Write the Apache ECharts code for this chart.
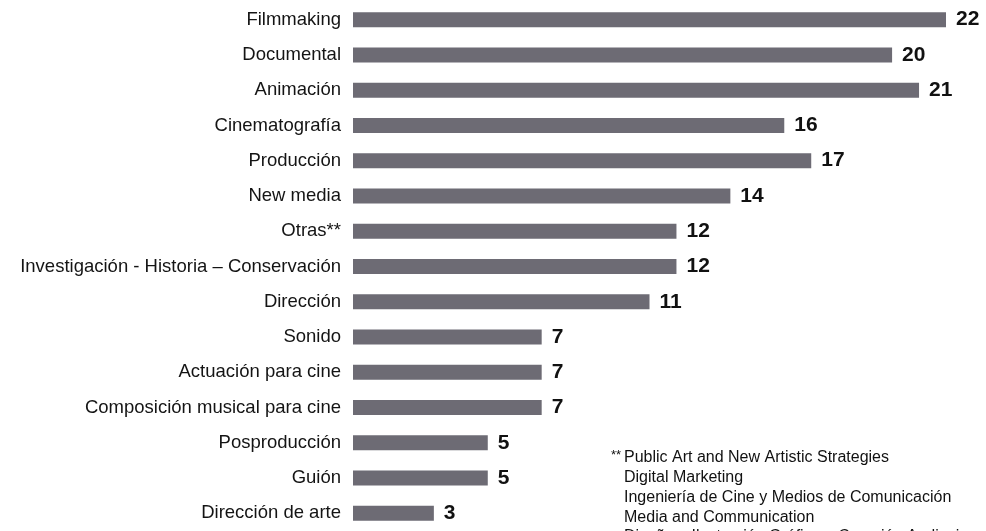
<!DOCTYPE html>
<html>
<head>
<meta charset="utf-8">
<script src="https://cdn.jsdelivr.net/npm/echarts@6/dist/echarts.min.js"></script>
<style>
  html, body { margin: 0; padding: 0; background: #fff; }
  #chart { width: 986px; height: 531px; }
</style>
</head>
<body>
<div id="chart"></div>
<script>
const categories = [
  'Filmmaking', 'Documental', 'Animación', 'Cinematografía', 'Producción',
  'New media', 'Otras**', 'Investigación - Historia – Conservación', 'Dirección',
  'Sonido', 'Actuación para cine', 'Composición musical para cine',
  'Posproducción', 'Guión', 'Dirección de arte'
]
const counts = [22, 20, 21, 16, 17, 14, 12, 12, 11, 7, 7, 7, 5, 5, 3]
const footnote = [
  'Public Art and New Artistic Strategies',
  'Digital Marketing',
  'Ingeniería de Cine y Medios de Comunicación',
  'Media and Communication',
  'Diseño e Ilustración Gráfica – Creación Audiovisual'
]

const chart = echarts.init(document.getElementById('chart'))
const font = 'Liberation Sans, Arial, sans-serif'

// nota al pie, con los asteriscos colgados a la izquierda
const notes = footnote.map((line, i) => ({
  type: 'text',
  left: 624,
  top: 450 + i * 19.7,
  style: { text: line, fontSize: 16, fill: '#111', fontFamily: font }
}))
notes.push({
  type: 'text',
  left: 611,
  top: 449,
  style: { text: '**', fontSize: 13, fill: '#111', fontFamily: font }
})

chart.setOption({
  animation: false,
  grid: {
    left: 353,
    right: 40,
    top: 2,
    bottom: -4,
    containLabel: false
  },
  xAxis: {
    type: 'value',
    min: 0,
    max: 22,
    show: false
  },
  yAxis: {
    type: 'category',
    data: categories,
    inverse: true,
    axisLine: { show: false },
    axisTick: { show: false },
    axisLabel: {
      margin: 12,
      color: '#141414',
      fontSize: 18.5,
      fontFamily: font
    }
  },
  series: [
    {
      type: 'bar',
      data: counts,
      barWidth: 15,
      itemStyle: {
        color: '#6d6b74'
      },
      label: {
        show: true,
        position: 'right',
        distance: 10,
        color: '#111',
        fontSize: 21,
        fontWeight: 'bold',
        fontFamily: font
      }
    }
  ],
  graphic: notes
})
</script>
</body>
</html>
